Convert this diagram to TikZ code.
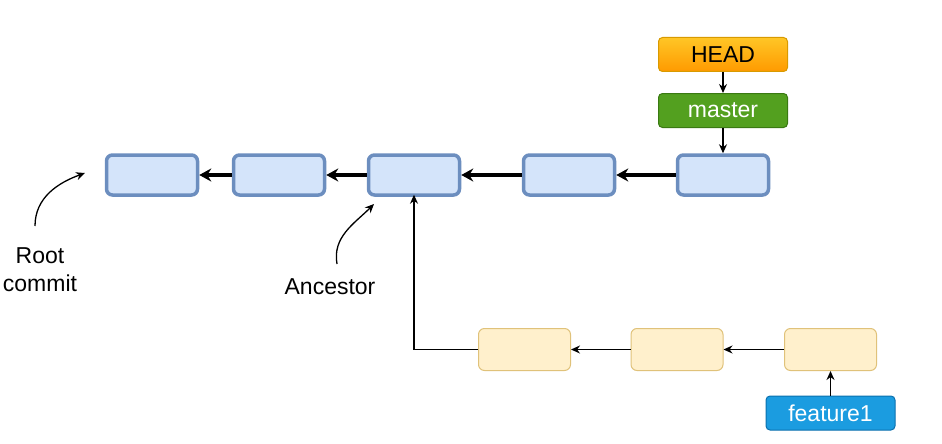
\documentclass[tikz,border=0pt]{standalone}
\usepackage{fontspec}
\setmainfont{Liberation Sans}
\usetikzlibrary{arrows.meta,positioning}
\definecolor{cfill}{HTML}{D4E4FA}
\definecolor{cline}{HTML}{6C8EBF}
\definecolor{ffill}{HTML}{FFF0CC}
\definecolor{fline}{HTML}{E0C27A}
\definecolor{htop}{HTML}{FFC626}
\definecolor{hbot}{HTML}{FF9A00}
\definecolor{hline}{HTML}{D89A00}
\definecolor{mfill}{HTML}{53A01F}
\definecolor{mline}{HTML}{3A7A12}
\definecolor{bfill}{HTML}{1B9CE0}
\definecolor{bline}{HTML}{0A70AE}
\begin{document}
\begin{tikzpicture}[x=1pt, y=-1pt,
    font=\fontsize{23}{28}\selectfont,
    commit/.style={draw=cline, fill=cfill, line width=3.5pt, rounded corners=6pt,
      minimum width=91pt, minimum height=40pt, inner sep=0pt},
    fcommit/.style={draw=fline, fill=ffill, line width=1pt, rounded corners=6pt,
      minimum width=92pt, minimum height=42pt, inner sep=0pt},
    ref/.style={line width=1pt, rounded corners=4pt, minimum width=129pt,
      minimum height=34pt, inner sep=0pt},
    big/.style={line width=3.5pt, -{Stealth[length=12pt, width=13pt]}},
    small/.style={line width=1.3pt, -{Stealth[length=9pt, width=8pt]}},
    note/.style={line width=1.3pt, -{Stealth[length=9pt, width=8pt]}}]
  \useasboundingbox (0,0) rectangle (942,444);
  \node[commit] (a) at (152,175) {};
  \node[commit] (b) at (279,175) {};
  \node[commit] (c) at (414,175) {};
  \node[commit] (d) at (569,175) {};
  \node[commit] (e) at (723,175) {};
  \node[ref, draw=hline, top color=htop, bottom color=hbot] (head) at (723,54.5) {HEAD};
  \node[ref, draw=mline, fill=mfill, text=white] (master) at (723,110.5) {master};
  \node[fcommit] (f) at (524.5,349.5) {};
  \node[fcommit] (g) at (677,349.5) {};
  \node[fcommit] (h) at (830.5,349.5) {};
  \node[ref, draw=bline, fill=bfill, text=white] (feat) at (830.5,413) {feature1};
  \node[align=center] (root) at (40,270) {Root\\commit};
  \node (anc) at (330,287) {Ancestor};
  \coordinate (rs) at (35,226);
  \coordinate (rt) at (85,173);
  \coordinate (as) at (337,264);
  \coordinate (at) at (374,204);
  \draw[big] (e) -- (d);
  \draw[big] (d) -- (c);
  \draw[big] (c) -- (b);
  \draw[big] (b) -- (a);
  \draw[small] (head) -- (master);
  \draw[small] (master) -- (e);
  \draw[small] (h) -- (g);
  \draw[small] (g) -- (f);
  \draw[small] (feat) -- (h);
  \draw[small] (f.west) -| ([yshift=2pt]c.south);
  \draw[note] (rs) to[out=90, in=200] (rt);
  \draw[note] (as) to[out=100, in=225] (at);
\end{tikzpicture}
\end{document}
